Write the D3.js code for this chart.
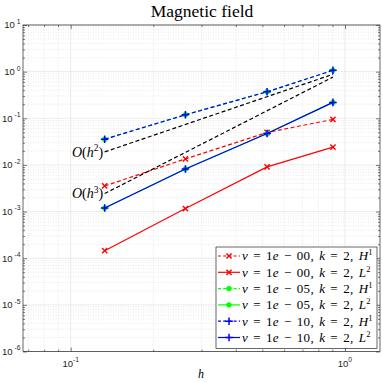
<!DOCTYPE html>
<html>
<head>
<meta charset="utf-8">
<script src="https://cdn.jsdelivr.net/npm/d3@7"></script>
<style>
  body { margin: 0; background: #fff; }
  svg { display: block; }
</style>
</head>
<body>
<script>
// mesh sizes h
var hVals = [0.133, 0.262, 0.52, 0.904];

// errors, nu = 1e-00
var nu0H1 = [0.00354, 0.01346, 0.0497, 0.0945];
var nu0L2 = [1.45e-4, 1.16e-3, 0.00906, 0.024];
// nu = 1e-05
var nu5H1 = [0.0356, 0.119, 0.370, 1.065];
var nu5L2 = [0.00119, 0.0082, 0.0472, 0.219];
// nu = 1e-10
var nu10H1 = [0.0356, 0.119, 0.370, 1.065];
var nu10L2 = [0.00119, 0.0082, 0.0472, 0.219];

// reference slopes (end points)
var refH = [0.133, 0.904];
var refO2 = [0.019, 0.878];
var refO3 = [0.00243, 0.763];

var xTicks = [0.1, 1];
var yTicks = [1e-6, 1e-5, 1e-4, 1e-3, 1e-2, 1e-1, 1, 10];
var xTickLabels = ["-1", "0"];
var yTickLabels = ["-6", "-5", "-4", "-3", "-2", "-1", "0", "1"];

var nuLabels = ["00", "00", "05", "05", "10", "10"];
var normLabels = [["H", "1"], ["L", "2"], ["H", "1"], ["L", "2"], ["H", "1"], ["L", "2"]];

var W = 382, H = 382;
var pl = 23, pr = 380, pt = 25, pb = 351.5;

var svg = d3.select("body").append("svg")
    .attr("width", W)
    .attr("height", H);

var x = d3.scaleLog().domain([0.067, 1.342]).range([pl, pr]);
var y = d3.scaleLog().domain([1e-6, 10]).range([pb, pt]);

var axisCol = "#262626";

// minor values
var xMinor = [], yMinor = [];
[-2, -1, 0].forEach(function(e) {
    for (var m = 2; m <= 9; m++) {
        var v = m * Math.pow(10, e);
        if (v > 0.067 && v < 1.342) xMinor.push(v);
    }
});
[-6, -5, -4, -3, -2, -1, 0].forEach(function(e) {
    for (var m = 2; m <= 9; m++) yMinor.push(m * Math.pow(10, e));
});

var grid = svg.append("g");
// minor grid (dotted)
grid.selectAll(".mx").data(xMinor).enter().append("line")
    .attr("x1", function(d) { return x(d); }).attr("x2", function(d) { return x(d); })
    .attr("y1", pt).attr("y2", pb)
    .attr("stroke", "#dcdcdc").attr("stroke-width", 0.6).attr("stroke-dasharray", "1,1.5");
grid.selectAll(".my").data(yMinor).enter().append("line")
    .attr("x1", pl).attr("x2", pr)
    .attr("y1", function(d) { return y(d); }).attr("y2", function(d) { return y(d); })
    .attr("stroke", "#dcdcdc").attr("stroke-width", 0.6).attr("stroke-dasharray", "1,1.5");
// major grid
grid.selectAll(".gx").data(xTicks).enter().append("line")
    .attr("x1", function(d) { return x(d); }).attr("x2", function(d) { return x(d); })
    .attr("y1", pt).attr("y2", pb)
    .attr("stroke", "#e2e2e2").attr("stroke-width", 0.7);
grid.selectAll(".gy").data(yTicks).enter().append("line")
    .attr("x1", pl).attr("x2", pr)
    .attr("y1", function(d) { return y(d); }).attr("y2", function(d) { return y(d); })
    .attr("stroke", "#e2e2e2").attr("stroke-width", 0.7);

// axes, ticks pointing inward, on all 4 sides
function tickAxis(axisFn, scale, vals, size, tr) {
    var g = svg.append("g").attr("transform", tr)
        .call(axisFn(scale).tickValues(vals).tickSize(size).tickFormat(""));
    g.select(".domain").remove();
    g.selectAll("line").attr("stroke", axisCol).attr("stroke-width", 0.6);
}
tickAxis(d3.axisBottom, x, xTicks, -4, "translate(0," + pb + ")");
tickAxis(d3.axisBottom, x, xMinor, -2, "translate(0," + pb + ")");
tickAxis(d3.axisTop, x, xTicks, -4, "translate(0," + pt + ")");
tickAxis(d3.axisTop, x, xMinor, -2, "translate(0," + pt + ")");
tickAxis(d3.axisLeft, y, yTicks, -4, "translate(" + pl + ",0)");
tickAxis(d3.axisLeft, y, yMinor, -2, "translate(" + pl + ",0)");
tickAxis(d3.axisRight, y, yTicks, -4, "translate(" + pr + ",0)");
tickAxis(d3.axisRight, y, yMinor, -2, "translate(" + pr + ",0)");

svg.append("rect")
    .attr("x", pl).attr("y", pt)
    .attr("width", pr - pl).attr("height", pb - pt)
    .attr("fill", "none").attr("stroke", axisCol).attr("stroke-width", 0.7);

// tick labels
var tickFont = "'Liberation Sans', Arial, sans-serif";
yTicks.forEach(function(v, i) {
    var t = svg.append("text")
        .attr("x", 20.5).attr("y", y(v) + 3.4)
        .attr("text-anchor", "end")
        .attr("font-family", tickFont).attr("font-size", 9.5)
        .attr("fill", axisCol);
    t.append("tspan").text("10");
    t.append("tspan").attr("dy", -4.5).attr("font-size", 6.8).text(" " + yTickLabels[i]);
});
xTicks.forEach(function(v, i) {
    var t = svg.append("text")
        .attr("x", x(v)).attr("y", 366.5)
        .attr("text-anchor", "middle")
        .attr("font-family", tickFont).attr("font-size", 9.5)
        .attr("fill", axisCol);
    t.append("tspan").text("10");
    t.append("tspan").attr("dy", -4.5).attr("font-size", 6.8).text(xTickLabels[i]);
});

// title & axis label
var serif = "'Liberation Serif', 'Times New Roman', serif";
svg.append("text")
    .attr("x", 202).attr("y", 16.5)
    .attr("text-anchor", "middle")
    .attr("font-family", serif).attr("font-size", 17.5)
    .attr("fill", "#000")
    .text("Magnetic field");
svg.append("text")
    .attr("x", 201).attr("y", 378)
    .attr("text-anchor", "middle")
    .attr("font-family", serif).attr("font-style", "italic").attr("font-size", 12)
    .attr("fill", "#000")
    .text("h");

// markers
function drawMarker(g, type, color, cx, cy) {
    var s;
    if (type === "x") {
        s = 2.6;
        g.append("path")
            .attr("d", "M" + (cx - s) + "," + (cy - s) + "L" + (cx + s) + "," + (cy + s) +
                       "M" + (cx - s) + "," + (cy + s) + "L" + (cx + s) + "," + (cy - s))
            .attr("stroke", color).attr("stroke-width", 1.4).attr("fill", "none");
    } else if (type === "+") {
        s = 3.8;
        g.append("path")
            .attr("d", "M" + (cx - s) + "," + cy + "L" + (cx + s) + "," + cy +
                       "M" + cx + "," + (cy - s) + "L" + cx + "," + (cy + s))
            .attr("stroke", color).attr("stroke-width", 1.5).attr("fill", "none");
    } else if (type === "o") {
        g.append("circle").attr("cx", cx).attr("cy", cy).attr("r", 2.7).attr("fill", color);
    }
}

var series = [
    { vals: nu0H1, color: "#ff0000", dash: "4,2.5", marker: "x" },
    { vals: nu0L2, color: "#ff0000", dash: null, marker: "x" },
    { vals: nu5H1, color: "#00ff00", dash: "4,2.5", marker: "o" },
    { vals: nu5L2, color: "#00ff00", dash: null, marker: "o" },
    { vals: nu10H1, color: "#0000ff", dash: "4,2.5", marker: "+" },
    { vals: nu10L2, color: "#0000ff", dash: null, marker: "+" }
];

var line = d3.line()
    .x(function(d) { return x(d[0]); })
    .y(function(d) { return y(d[1]); });

var plot = svg.append("g");
series.forEach(function(s) {
    var pts = hVals.map(function(h, i) { return [h, s.vals[i]]; });
    plot.append("path")
        .attr("d", line(pts))
        .attr("fill", "none")
        .attr("stroke", s.color)
        .attr("stroke-width", 1.2)
        .attr("stroke-dasharray", s.dash);
    var mg = plot.append("g");
    pts.forEach(function(p) { drawMarker(mg, s.marker, s.color, x(p[0]), y(p[1])); });
});

// reference lines
[[refO2, "2"], [refO3, "3"]].forEach(function(r) {
    var pts = refH.map(function(h, i) { return [h, r[0][i]]; });
    plot.append("path")
        .attr("d", line(pts))
        .attr("fill", "none")
        .attr("stroke", "#000")
        .attr("stroke-width", 1.2)
        .attr("stroke-dasharray", "4,2.5");
    var t = svg.append("text")
        .attr("x", x(refH[0]) - 1.5).attr("y", y(r[0][0]) + 4.8)
        .attr("text-anchor", "end")
        .attr("font-family", serif).attr("font-size", 14)
        .attr("fill", "#000");
    t.append("tspan").attr("font-style", "italic").text("O");
    t.append("tspan").text("(");
    t.append("tspan").attr("font-style", "italic").text("h");
    t.append("tspan").attr("dy", -5.5).attr("font-size", 9.5).text(r[1]);
    t.append("tspan").attr("dy", 5.5).text(")");
});

// legend
var lgX = 216, lgY = 247, lgW = 161, lgH = 101.5, rowH = 16.3;
var lg = svg.append("g");
lg.append("rect")
    .attr("x", lgX).attr("y", lgY).attr("width", lgW).attr("height", lgH)
    .attr("fill", "#fff").attr("stroke", axisCol).attr("stroke-width", 0.7);
series.forEach(function(s, i) {
    var cy = lgY + 9 + i * rowH;
    lg.append("line")
        .attr("x1", 218).attr("x2", 240).attr("y1", cy).attr("y2", cy)
        .attr("stroke", s.color).attr("stroke-width", 1.2)
        .attr("stroke-dasharray", s.dash ? "3,2.2" : null);
    drawMarker(lg, s.marker, s.color, 229, cy);
    var t = lg.append("text")
        .attr("x", 242).attr("y", cy + 4.4)
        .attr("font-family", serif).attr("font-size", 13)
        .attr("letter-spacing", 0.3)
        .attr("word-spacing", 1.6)
        .attr("fill", "#000");
    t.append("tspan").attr("font-style", "italic").text("ν");
    t.append("tspan").text(" = 1");
    t.append("tspan").attr("font-style", "italic").text("e");
    t.append("tspan").text(" − " + nuLabels[i] + ",  ");
    t.append("tspan").attr("font-style", "italic").text("k");
    t.append("tspan").text(" = 2,  ");
    t.append("tspan").attr("font-style", "italic").text(normLabels[i][0]);
    t.append("tspan").attr("dy", -5).attr("font-size", 8.5).text(normLabels[i][1]);
});
</script>
</body>
</html>
